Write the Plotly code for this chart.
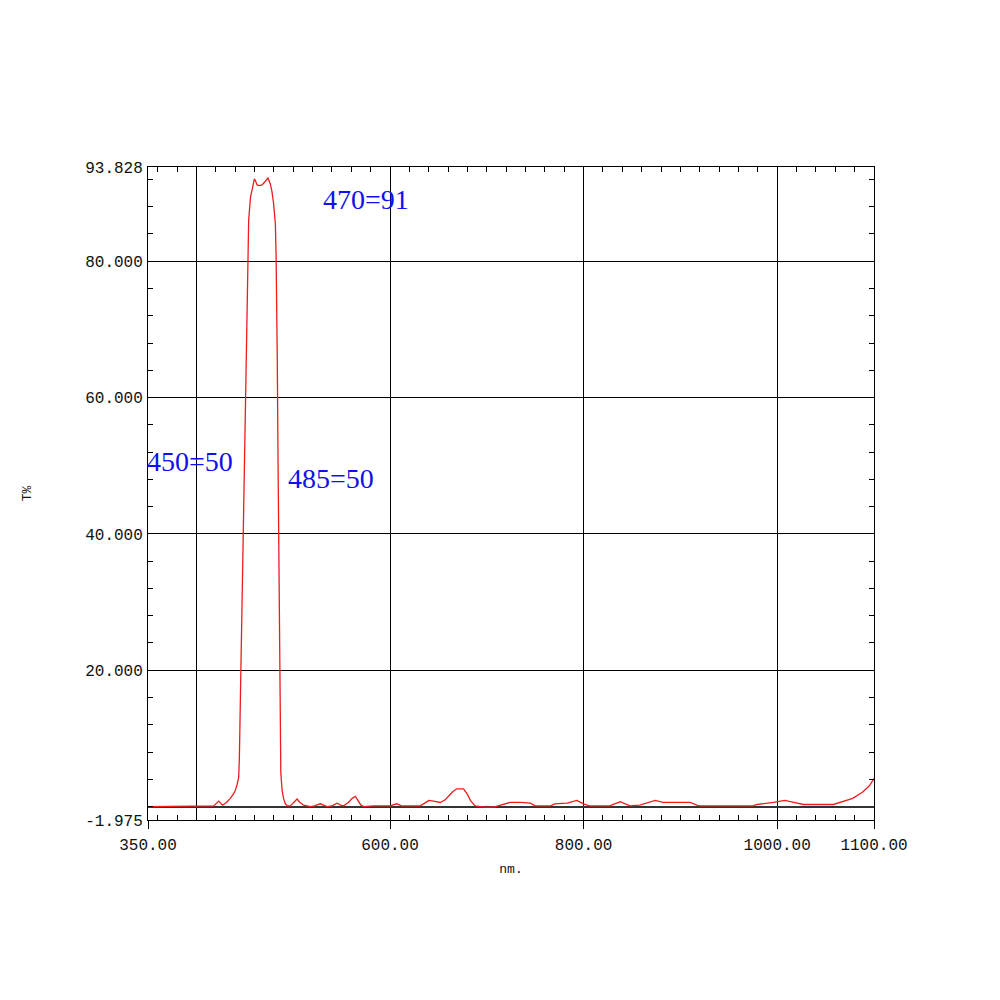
import plotly.graph_objects as go

# Spectrum data (wavelength nm, transmittance %)
wavelength = [350, 360, 370, 380, 390, 400, 410, 418, 423, 427, 431, 435, 438.5, 440.3, 442, 443.7,
              444.4, 445.4, 446.3, 447, 447.8, 448.5, 449.3, 449.9, 450.5, 451.6, 452.3, 453, 454,
              455.8, 457.5, 459.9, 461, 462.7, 465, 467.8, 471, 474, 476.4, 478, 479.8, 481.6, 482.3,
              482.8, 483.6, 484.2, 484.8, 485.2, 486, 486.8, 487.2, 488.5, 490, 491.9, 494, 497, 501,
              504, 507, 510.8, 517.7, 522, 528, 531, 535, 540, 545.3, 549, 552, 557, 561, 564.2, 567,
              570, 572.8, 583, 600, 607, 612, 631, 636, 640, 645, 652, 657, 660, 665, 669, 676, 680,
              683, 688, 697, 707, 714, 724, 735, 745, 750, 766, 770, 783, 793, 800, 806, 827, 832, 838,
              843, 848, 858, 866, 874, 882, 910, 917, 920, 975, 979, 996, 1008, 1015, 1027, 1058, 1068,
              1078, 1088, 1095, 1100]
transmittance = [0.0, 0.0, 0.05, 0.0, 0.1, 0.0, 0.0, 0.1, 0.8, 0.2, 0.6, 1.2, 1.9, 2.4, 3.2, 4.3,
                 7.2, 15.6, 22, 30, 36, 42, 47, 52, 62, 70, 78, 81.5, 86,
                 89.3, 90.6, 92.1, 91.8, 91.2, 91.1, 91.2, 91.7, 92.2, 91.3, 90.3, 88.4, 85.4, 81,
                 77, 65, 53, 45, 35, 22, 14, 5, 2.4, 1.2, 0.4, 0.1, 0.1, 0.6,
                 1.1, 0.6, 0.2, 0.0, 0.1, 0.4, 0.2, 0.0, 0.1, 0.5, 0.2, 0.1, 0.6, 1.2, 1.5, 0.8,
                 0.2, 0.0, 0.1, 0.1, 0.4, 0.1, 0.1, 0.5, 0.9, 0.8, 0.6, 1.0, 1.5, 2.2, 2.6, 2.6, 1.8,
                 0.9, 0.1, -0.1, -0.1, 0.2, 0.6, 0.6, 0.5, 0.1, 0.1, 0.4, 0.5, 0.9, 0.4, 0.1, 0.1, 0.4, 0.7,
                 0.4, 0.1, 0.2, 0.6, 0.9, 0.6, 0.6, 0.2, 0.1, 0.1, 0.3, 0.6, 0.9, 0.7, 0.3, 0.3, 0.7,
                 1.2, 2.1, 3.0, 4.1]

x_tick_vals = [350, 600, 800, 1000, 1100]
x_tick_text = ["350.00", "600.00", "800.00", "1000.00", "1100.00"]
y_min, y_max = -1.975, 93.828
y_tick_vals = [-1.975, 20, 40, 60, 80, 93.828]
y_tick_text = ["-1.975", "20.000", "40.000", "60.000", "80.000", "93.828"]

note_text = ["470=91", "450=50", "485=50"]
note_x = [575.5, 393.8, 539.4]
note_y = [89.0, 50.6, 48.1]

tick_font = dict(family="Liberation Mono, DejaVu Sans Mono, monospace", size=16, color="#111111")
title_font = dict(family="Liberation Mono, DejaVu Sans Mono, monospace", size=13, color="#111111")

fig = go.Figure()
fig.add_trace(go.Scatter(x=wavelength, y=transmittance, mode="lines",
                         line=dict(color="#ee1c1c", width=1.3), showlegend=False,
                         xaxis="x", yaxis="y"))
# empty trace to activate the grid / mirrored-tick axes
fig.add_trace(go.Scatter(x=[], y=[], xaxis="x2", yaxis="y2", showlegend=False, hoverinfo="skip"))

for t, xv, yv in zip(note_text, note_x, note_y):
    fig.add_annotation(x=xv, y=yv, xref="x", yref="y", text=t, showarrow=False,
                       font=dict(family="Liberation Serif, Times New Roman, serif", size=28, color="#1010ee"))

fig.update_layout(
    width=992, height=992,
    margin=dict(l=140, r=126, t=159, b=180),
    paper_bgcolor="white", plot_bgcolor="white",
    xaxis=dict(range=[350, 1100], tickmode="array", tickvals=x_tick_vals, ticktext=x_tick_text,
               ticks="outside", ticklen=8, tickcolor="black", tickwidth=1,
               showgrid=False, zeroline=False, showline=True, linecolor="black", linewidth=1,
               mirror=True, tickfont=tick_font, ticklabelstandoff=2,
               title=dict(text="nm.", font=title_font, standoff=9),
               minor=dict(tickmode="linear", tick0=0, dtick=20, ticks="inside", ticklen=5,
                          tickcolor="black", showgrid=False)),
    xaxis2=dict(range=[350, 1100], overlaying="x", side="top", anchor="y",
                tickmode="linear", tick0=0, dtick=200, showgrid=True, gridcolor="black", gridwidth=1,
                ticks="", showticklabels=False, zeroline=False, showline=False,
                minor=dict(tickmode="linear", tick0=0, dtick=20, ticks="inside", ticklen=5,
                           tickcolor="black", showgrid=False)),
    yaxis=dict(range=[y_min, y_max], tickmode="array", tickvals=y_tick_vals, ticktext=y_tick_text,
               ticks="", showgrid=False, zeroline=False, showline=True, linecolor="black", linewidth=1,
               mirror=True, tickfont=tick_font, ticklabelstandoff=1,
               title=dict(text="T%", font=title_font, standoff=50),
               minor=dict(tickmode="linear", tick0=0, dtick=4, ticks="inside", ticklen=5,
                          tickcolor="black", showgrid=False)),
    yaxis2=dict(range=[y_min, y_max], overlaying="y", side="right", anchor="x",
                tickmode="linear", tick0=0, dtick=20, showgrid=True, gridcolor="black", gridwidth=1,
                ticks="", showticklabels=False, zeroline=True, zerolinecolor="#333333", zerolinewidth=2,
                showline=False,
                minor=dict(tickmode="linear", tick0=0, dtick=4, ticks="inside", ticklen=5,
                           tickcolor="black", showgrid=False)),
)

fig.write_html("out.html")
